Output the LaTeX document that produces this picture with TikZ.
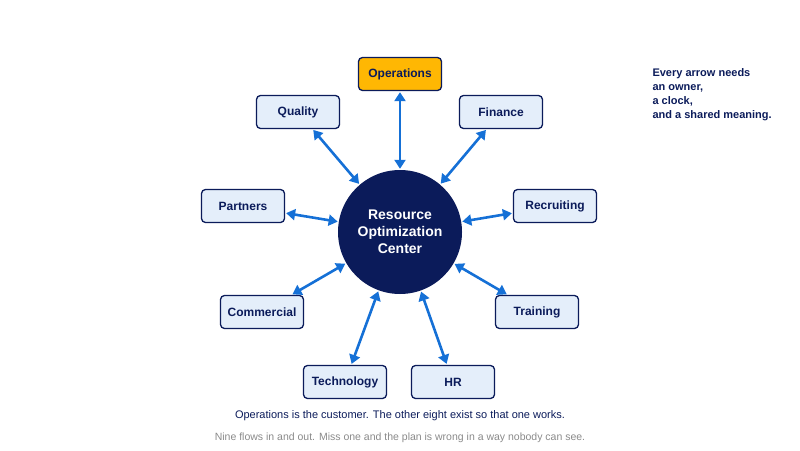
\documentclass[tikz,border=0pt]{standalone}
\usepackage{fontspec}
\setmainfont{Liberation Sans}
\usetikzlibrary{arrows.meta}
\definecolor{navy}{HTML}{0B1B5A}
\definecolor{boxfill}{HTML}{E4EEFA}
\definecolor{orng}{HTML}{FFB703}
\definecolor{arr}{HTML}{1570D6}
\definecolor{gr}{HTML}{8A8A8A}
\begin{document}
\begin{tikzpicture}[x=1pt,y=-1pt,
  box/.style={draw=navy,line width=1.3pt,fill=boxfill,rounded corners=4pt,minimum width=83pt,minimum height=33pt,inner sep=0pt,font=\fontsize{12}{14}\selectfont\bfseries,text=navy},
  link/.style={arr,line width=2.6pt,{Triangle[length=9pt,width=11pt]}-{Triangle[length=9pt,width=11pt]},shorten <=1pt,shorten >=1pt}]
\useasboundingbox (0,0) rectangle (800,450);
\node[circle,fill=navy,minimum size=124pt,inner sep=0pt,text=white,align=center,font=\fontsize{14}{17}\selectfont\bfseries] (c) at (400,232) {Resource\\Optimization\\Center};
\node[box,fill=orng] (op) at (400,74) {Operations};
\node[box] (qu) at (298,112) {Quality};
\node[box] (fi) at (501,112) {Finance};
\node[box] (pa) at (243,206) {Partners};
\node[box] (re) at (555,206) {Recruiting};
\node[box] (co) at (262,312) {Commercial};
\node[box] (tr) at (537,312) {Training};
\node[box] (te) at (345,382) {Technology};
\node[box] (hr) at (453,382) {HR};
\foreach \n in {op,qu,fi,pa,re,co,tr,te,hr} \draw[link] (c) -- (\n);
\node[anchor=north west,align=left,text=navy,font=\fontsize{11}{14}\selectfont\bfseries] (note) at (649,65) {Every arrow needs\\an owner,\\a clock,\\and a shared meaning.};
\node[text=navy,font=\fontsize{11}{13}\selectfont] (t1) at (400,416) {Operations is the customer. The other eight exist so that one works.};
\node[text=gr,font=\fontsize{10.5}{13}\selectfont] (t2) at (400,438) {Nine flows in and out. Miss one and the plan is wrong in a way nobody can see.};
\end{tikzpicture}
\end{document}
